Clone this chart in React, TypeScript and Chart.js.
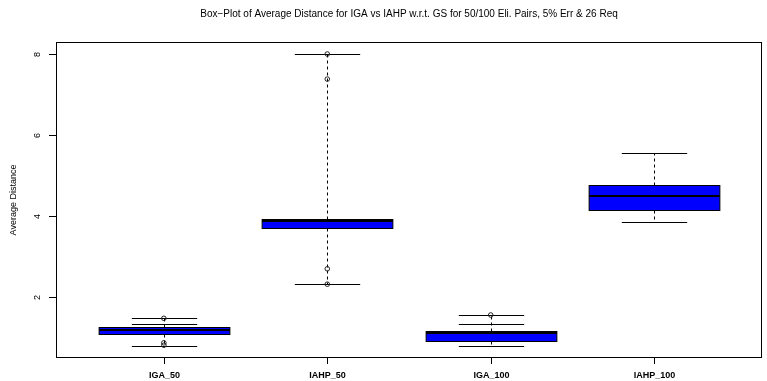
import React, { useEffect, useRef } from "react";
import { Chart, registerables } from "chart.js";

Chart.register(...registerables);

// ---- data ----
const categories = ["IGA_50", "IAHP_50", "IGA_100", "IAHP_100"];
const lowerWhisker = [0.78, 2.31, 0.78, 3.85];
const q1Values = [1.085, 3.69, 0.91, 4.15];
const medianValues = [1.17, 3.88, 1.095, 4.5];
const q3Values = [1.243, 3.93, 1.16, 4.77];
const upperWhisker = [1.466, 8.0, 1.548, 5.545];
const extraStaples = [[1.32], [], [1.325], []];
const outlierValues = [[1.466, 0.86, 0.8], [8.0, 7.38, 2.69, 2.31], [1.548], []];
const yTicks = [2, 4, 6, 8];

const titleText =
  "Box\u2212Plot of Average Distance for IGA vs IAHP w.r.t. GS for 50/100 Eli. Pairs, 5% Err & 26 Req";
const yTitle = "Average Distance";

const FONT = "'Liberation Sans', Arial, Helvetica, sans-serif";

const boxPlugin = {
  id: "rbox",
  beforeDatasetsDraw(chart: any) {
    const ctx = chart.ctx;
    const xs = chart.scales.x;
    const ys = chart.scales.y;
    ctx.save();
    categories.forEach((_, i) => {
      const xc = Math.round(xs.getPixelForValue(i + 1)) + 0.5;
      const half = xs.getPixelForValue(i + 1 + 0.4) - xs.getPixelForValue(i + 1);
      const sh = half / 2;
      const py = (v: number) => Math.round(ys.getPixelForValue(v)) + 0.5;
      // whiskers (dashed)
      ctx.strokeStyle = "#000";
      ctx.lineWidth = 1;
      ctx.setLineDash([3, 3]);
      ctx.beginPath();
      ctx.moveTo(xc, py(q3Values[i]));
      ctx.lineTo(xc, py(upperWhisker[i]));
      ctx.moveTo(xc, py(q1Values[i]));
      ctx.lineTo(xc, py(lowerWhisker[i]));
      ctx.stroke();
      ctx.setLineDash([]);
      // staples
      const staples = [upperWhisker[i], lowerWhisker[i], ...extraStaples[i]];
      ctx.beginPath();
      staples.forEach((v) => {
        ctx.moveTo(xc - sh, py(v));
        ctx.lineTo(xc + sh, py(v));
      });
      ctx.stroke();
      // box
      const yTop = py(q3Values[i]);
      const yBot = py(q1Values[i]);
      ctx.fillStyle = "#0000FF";
      ctx.fillRect(xc - half, yTop, half * 2, yBot - yTop);
      ctx.strokeRect(xc - half, yTop, half * 2, yBot - yTop);
      // median
      ctx.lineWidth = 2;
      ctx.beginPath();
      const ym = Math.round(ys.getPixelForValue(medianValues[i]));
      ctx.moveTo(xc - half, ym);
      ctx.lineTo(xc + half, ym);
      ctx.stroke();
    });
    ctx.restore();
  },
  afterDraw(chart: any) {
    const ctx = chart.ctx;
    const xs = chart.scales.x;
    const ys = chart.scales.y;
    const { left, right, top, bottom } = chart.chartArea;
    ctx.save();
    ctx.strokeStyle = "#000";
    ctx.fillStyle = "#000";
    ctx.lineWidth = 1;
    // frame
    ctx.strokeRect(left + 0.5, top + 0.5, right - left - 1, bottom - top - 1);
    // y ticks
    ctx.font = `9px ${FONT}`;
    ctx.textAlign = "center";
    ctx.textBaseline = "middle";
    yTicks.forEach((v) => {
      const y = Math.round(ys.getPixelForValue(v)) + 0.5;
      ctx.beginPath();
      ctx.moveTo(left - 7, y);
      ctx.lineTo(left + 0.5, y);
      ctx.stroke();
      ctx.save();
      ctx.translate(38, y);
      ctx.rotate(-Math.PI / 2);
      ctx.fillText(String(v), 0, 0);
      ctx.restore();
    });
    // y title
    ctx.save();
    ctx.translate(14, (top + bottom) / 2);
    ctx.rotate(-Math.PI / 2);
    ctx.fillText(yTitle, 0, 0);
    ctx.restore();
    // x ticks
    ctx.font = `bold 9px ${FONT}`;
    categories.forEach((c, i) => {
      const x = Math.round(xs.getPixelForValue(i + 1)) + 0.5;
      ctx.beginPath();
      ctx.moveTo(x, bottom - 1);
      ctx.lineTo(x, bottom + 6);
      ctx.stroke();
      ctx.fillText(c, x, 376);
    });
    // title
    ctx.font = `10px ${FONT}`;
    ctx.fillText(titleText, (left + right) / 2, 14);
    ctx.restore();
  },
};

export default function App() {
  const ref = useRef<HTMLCanvasElement | null>(null);
  useEffect(() => {
    if (!ref.current) return;
    const points: { x: number; y: number }[] = [];
    outlierValues.forEach((arr, i) => arr.forEach((v) => points.push({ x: i + 1, y: v })));
    const chart = new Chart(ref.current, {
      type: "scatter",
      data: {
        datasets: [
          {
            data: points,
            pointRadius: 2.3,
            pointBorderWidth: 1,
            borderColor: "#222",
            backgroundColor: "rgba(0,0,0,0)",
          },
        ],
      },
      options: {
        responsive: false,
        animation: false,
        devicePixelRatio: 1,
        layout: { padding: { left: 56, top: 42, right: 4, bottom: 23 } },
        scales: {
          x: { type: "linear", min: 0.34, max: 4.66, display: false },
          y: { type: "linear", min: 0.485, max: 8.297, display: false },
        },
        plugins: { legend: { display: false }, tooltip: { enabled: false } },
      },
      plugins: [boxPlugin],
    });
    return () => chart.destroy();
  }, []);
  return (
    <div style={{ position: "absolute", left: 0, top: 0, width: 767, height: 381, background: "#fff" }}>
      <canvas ref={ref} width={767} height={381} style={{ width: 767, height: 381 }} />
    </div>
  );
}
